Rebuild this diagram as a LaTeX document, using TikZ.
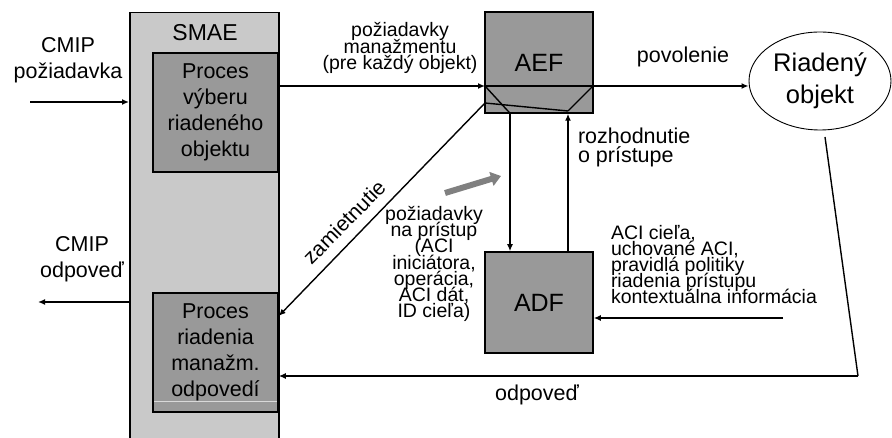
\documentclass[tikz,border=0pt]{standalone}
\usepackage{fontspec}
\setmainfont{Liberation Sans}
\usetikzlibrary{arrows.meta,shapes.geometric}

\definecolor{smaegray}{HTML}{C9C9C9}
\definecolor{boxgray}{HTML}{999999}
\definecolor{hintgray}{HTML}{808080}

% let tightly spaced label lines overlap instead of being pushed apart
\setlength{\lineskiplimit}{-100pt}

\tikzset{
  lbl/.style={inner sep=0pt, outer sep=0pt, align=center},
  big/.style={font=\fontsize{21.5}{25.5}\selectfont},
  tight/.style={font=\fontsize{19.5}{16.2}\selectfont},
  procbox/.style={draw=black, line width=1.5pt, fill=boxgray, inner sep=0pt,
    align=center, font=\fontsize{21.5}{26}\selectfont},
  funcbox/.style={draw=black, line width=1.5pt, fill=boxgray, inner sep=0pt,
    minimum width=108pt, minimum height=101pt, font=\fontsize{25}{30}\selectfont},
  wire/.style={line width=1.4pt},
  conn/.style={line width=1.4pt, -{Latex[length=7pt,width=6pt]}},
}

\begin{document}
\begin{tikzpicture}[x=1pt,y=-1pt]
\useasboundingbox (0,0) rectangle (892,438);

% SMAE frame with its two processes
\node[draw=black, line width=1.5pt, fill=smaegray, minimum width=149pt,
      minimum height=440pt, anchor=north west, inner sep=0pt] (smae) at (129,12) {};
\node[lbl, font=\fontsize{23}{27}\selectfont] (smaelbl) at (205,33) {SMAE};
\node[procbox, minimum width=125pt, minimum height=119pt] (sel) at (215.5,112.5)
  {Proces\\výberu\\riadeného\\objektu};
\node[procbox, minimum width=125pt, minimum height=119pt] (resp) at (215.5,352.5)
  {Proces\\riadenia\\manažm.\\odpovedí};
\coordinate (hl1) at (154,401);
\coordinate (hl2) at (277,401);
\draw[line width=0.8pt, color=white!85!black] (hl1) -- (hl2);

% CMIP interface
\node[lbl, big] (cmipreq) at (68,60) {CMIP\\požiadavka};
\node[lbl, big] (cmipresp) at (82,259) {CMIP\\odpoveď};
\coordinate (reqin) at (30,102);
\coordinate (respout) at (38,302);
\draw[conn] (reqin) -- (reqin -| smae.west);
\draw[conn] (respout -| smae.west) -- (respout);

% enforcement and decision functions
\node[funcbox] (aef) at (539,62.5) {AEF};
\node[funcbox] (adf) at (539,302.5) {ADF};

% managed object
\node[draw=black, line width=0.9pt, ellipse, minimum width=142pt, minimum height=98pt,
      inner sep=0pt, align=center, font=\fontsize{25.5}{32}\selectfont] (obj) at (820,81)
  {Riadený\\objekt};

% management request through AEF to the object
\coordinate (aefL) at (485,86);
\coordinate (aefR) at (593,86);
\coordinate (aefD) at (485,103);
\coordinate (bendL) at (507,110);
\coordinate (downL) at (510,113);
\coordinate (bendR) at (568,111);
\draw[conn] (sel.east |- aefL) -- (aefL);
\draw[wire] (aefL) -- (aefR);
\draw[conn] (aefR) -- (aefR -| obj.west);
\node[lbl, tight] (mgmtreq) at (400,48) {požiadavky\\manažmentu\\(pre každý objekt)};
\node[lbl, font=\fontsize{21.5}{25}\selectfont] (permit) at (683,57) {povolenie};

% internal routing inside AEF
\draw[wire] (aefL) -- (bendL) -- (downL);
\draw[conn] (downL) -- (downL |- adf.north);
\draw[wire] (aefR) -- (bendR);
\draw[wire] (aefD) -- (bendR);
\draw[conn] (bendR |- adf.north) -- (bendR |- aef.south);
\node[lbl, align=left, anchor=west, font=\fontsize{21.5}{19}\selectfont]
  (decision) at (578,147.5) {rozhodnutie\\o prístupe};

% rejection back to the response process
\draw[conn] (aefD) -- (resp.east |- 0,316);
\node[lbl, rotate=45.5, font=\fontsize{21}{25}\selectfont] (reject) at (344,222) {zamietnutie};

% access request to ADF
\node[lbl, tight] (accreq) at (434,264)
  {požiadavky\\na prístup\\(ACI\\iniciátora,\\operácia,\\ACI dát,\\ID cieľa)};
\coordinate (hintA) at (445,193);
\coordinate (hintB) at (501,176);
\draw[line width=6pt, hintgray, -{Triangle[length=10pt,width=14pt]}] (hintA) -- (hintB);

% context information into ADF
\coordinate (ctx) at (783,318);
\draw[conn] (ctx) -- (ctx -| adf.east);
\node[lbl, tight, align=left, anchor=west] (ctxlbl) at (611,264.5)
  {ACI cieľa,\\uchované ACI,\\pravidlá politiky\\riadenia prístupu\\kontextuálna informácia};

% response from the object
\coordinate (objout) at (825,137);
\coordinate (corner) at (858,376);
\draw[wire] (objout) -- (corner);
\draw[conn] (corner) -- (corner -| resp.east);
\node[lbl, font=\fontsize{21.5}{25}\selectfont] (resplbl) at (537,395) {odpoveď};
\end{tikzpicture}
\end{document}
